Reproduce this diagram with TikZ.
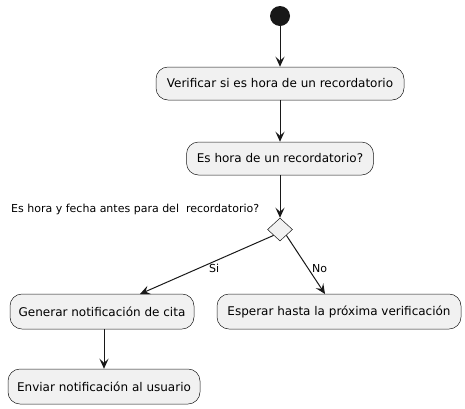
\documentclass[tikz,border=0pt]{standalone}
\usepackage{fontspec}
\setmainfont{DejaVu Sans}
\usetikzlibrary{shapes.geometric,arrows.meta}
\definecolor{boxfill}{HTML}{F1F1F1}
\definecolor{ink}{HTML}{181818}
\begin{document}
\begin{tikzpicture}[x=1pt,y=-1pt,
  actbox/.style={draw=ink,line width=0.5pt,fill=boxfill,rounded corners=12pt,
    inner sep=0pt,font=\fontsize{12}{14}\selectfont,text=black},
  conn/.style={draw=ink,line width=1pt,-{Stealth[length=10pt,width=9pt,inset=4pt]}},
  lbl/.style={font=\fontsize{11}{13}\selectfont,text=black,inner sep=0pt}]
\useasboundingbox (0,0) rectangle (465,408);
\node[circle,fill=ink,minimum size=20pt,inner sep=0pt] (start) at (280,16) {};
\node[actbox,minimum width=248pt,minimum height=33pt] (b1) at (280,83.5) {Verificar si es hora de un recordatorio};
\node[actbox,minimum width=187pt,minimum height=33pt] (b2) at (280,158.5) {Es hora de un recordatorio?};
\node[diamond,draw=ink,line width=0.5pt,fill=boxfill,minimum width=25pt,minimum height=23pt,inner sep=0pt] (d) at (280,229.5) {};
\node[lbl,anchor=base west] (q) at (11,212) {Es hora y fecha antes para del\ \ recordatorio?};
\node[actbox,minimum width=184pt,minimum height=35pt] (b3) at (102,311.5) {Generar notificación de cita};
\node[actbox,minimum width=244pt,minimum height=35pt] (b4) at (339,311.5) {Esperar hasta la próxima verificación};
\node[actbox,minimum width=192pt,minimum height=35pt] (b5) at (104,386.5) {Enviar notificación al usuario};
\coordinate (t3) at (140,294);
\coordinate (t4) at (325,294);
\coordinate (s3) at (104,329);
\draw[conn] (start) -- (b1);
\draw[conn] (b1) -- (b2);
\draw[conn] (b2) -- (d);
\draw[conn] (d.south west) -- (t3);
\draw[conn] (d.south east) -- (t4);
\draw[conn] (s3) -- (b5.north);
\node[lbl,anchor=base west] (si) at (209,272) {Si};
\node[lbl,anchor=base west] (no) at (312,272) {No};
\end{tikzpicture}
\end{document}
